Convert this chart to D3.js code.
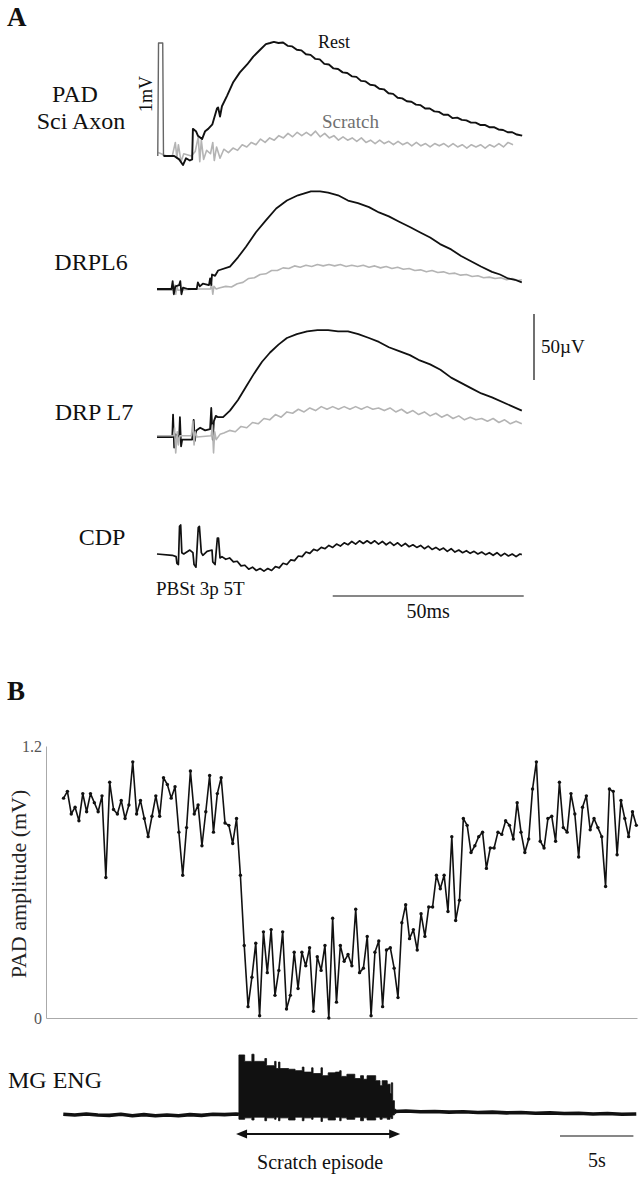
<!DOCTYPE html>
<html>
<head>
<meta charset="utf-8">
<script src="https://cdn.jsdelivr.net/npm/d3@7"></script>
<style>
  html, body { margin: 0; padding: 0; background: #fff; }
  svg { display: block; }
  text { font-family: "Liberation Serif", "Times New Roman", serif; }
</style>
</head>
<body>
<svg id="chart" width="642" height="1200"></svg>
<script>
// ---------------- Panel A data: time (ms), amplitude ----------------
// PAD (mV): calibration pulse, Rest (black) and Scratch (gray)
const padPulse = [[0.2,0],[0.4,1.0],[1.5,1.0],[1.7,0]];
const padRest = [[1.7,0],[2.6,0.00],[4.5,0.00],[5.8,-0.03],[6.8,-0.08],[7.6,-0.02],[8.6,-0.04],[9.2,-0.03],[9.4,0.24],[10.2,0.22],[10.7,0.18],[11.8,0.15],[12.6,0.22],[13.4,0.24],[14.5,0.28],[15.7,0.42],[16.0,0.43],[16.5,0.35],[17.0,0.44],[18.3,0.53],[19.9,0.65],[21.7,0.74],[23.6,0.81],[25.2,0.88],[27.0,0.94],[28.5,0.99],[29.6,1.00],[30.6,1.01],[31.8,1.00],[33.0,1.005],[34.2,0.975],[35.4,0.97],[36.6,0.94],[37.8,0.935],[39.0,0.90],[40.2,0.895],[41.4,0.86],[42.6,0.855],[43.8,0.815],[45.0,0.81],[46.2,0.775],[47.4,0.77],[48.6,0.74],[49.8,0.735],[51.0,0.705],[52.2,0.70],[53.4,0.665],[54.6,0.66],[55.8,0.63],[57.0,0.625],[58.2,0.595],[59.4,0.59],[60.6,0.555],[61.8,0.55],[63.0,0.515],[64.2,0.51],[65.4,0.485],[66.6,0.48],[67.8,0.455],[69.0,0.45],[70.2,0.42],[71.4,0.42],[72.6,0.395],[73.8,0.39],[75.0,0.365],[76.2,0.365],[77.4,0.335],[78.6,0.34],[79.8,0.32],[81.0,0.315],[82.2,0.295],[83.4,0.295],[84.6,0.275],[85.8,0.275],[87.0,0.255],[88.2,0.255],[89.4,0.235],[90.6,0.23],[91.8,0.21],[93.0,0.21],[94.2,0.19],[95.6,0.18]];
const padScratch = [[0.3,0.03],[2.5,0.00],[4.0,0.00],[4.8,0.12],[5.2,-0.02],[5.6,0.10],[6.3,-0.05],[7.0,0.02],[9.0,0.00],[10.0,0.04],[10.8,0.17],[11.2,-0.05],[11.6,0.14],[12.2,-0.03],[13.0,0.05],[14.0,0.02],[14.6,0.12],[15.0,-0.04],[15.6,0.08],[16.5,-0.02],[17.5,0.06],[18.7,0.03],[19.9,0.07],[21.1,0.05],[22.3,0.10],[23.5,0.08],[24.7,0.12],[25.9,0.10],[27.1,0.15],[28.3,0.12],[29.5,0.16],[30.7,0.14],[31.9,0.18],[33.1,0.16],[34.3,0.20],[35.5,0.17],[36.7,0.21],[37.9,0.18],[39.1,0.21],[40.3,0.18],[41.5,0.22],[42.7,0.17],[43.9,0.20],[45.1,0.16],[46.3,0.18],[47.5,0.14],[48.7,0.17],[49.9,0.14],[51.1,0.16],[52.3,0.13],[53.5,0.16],[54.7,0.12],[55.9,0.14],[57.1,0.11],[58.3,0.14],[59.5,0.11],[60.7,0.13],[61.9,0.10],[63.1,0.13],[64.3,0.10],[65.5,0.12],[66.7,0.09],[67.9,0.12],[69.1,0.09],[70.3,0.11],[71.5,0.08],[72.7,0.11],[73.9,0.09],[75.1,0.11],[76.3,0.08],[77.5,0.11],[78.7,0.08],[79.9,0.10],[81.1,0.07],[82.3,0.10],[83.5,0.08],[84.7,0.10],[85.9,0.07],[87.1,0.10],[88.3,0.08],[89.5,0.11],[90.7,0.08],[91.9,0.12],[93.2,0.10]];

// DRP L6 (µV)
const drpL6Rest = [[0,0],[3.8,0],[4.1,6],[4.4,-4],[4.8,2],[5.8,3],[6.1,6],[6.4,-4],[6.8,1],[8.1,0],[10.4,0],[10.7,5],[11.2,2],[12.0,4],[13.6,3],[13.9,8],[14.2,3],[14.4,11],[15.2,10],[16.0,14],[19.1,17],[21.2,24],[23.3,32],[25.9,43],[28.5,52],[31.2,61],[34.0,67],[36.9,71],[40.3,74],[42.7,74],[44.8,73],[47.4,71],[50.0,67],[52.6,65],[55.5,62],[58.1,58],[60.7,55],[63.4,51],[66.2,47],[68.8,43],[71.5,39],[74.1,34],[77.0,30],[79.6,25],[82.2,21],[84.8,17],[87.7,13],[89.8,11],[91.9,8],[93.7,7],[95.5,5]];
const drpL6Scratch = [[0,-1],[4.5,-1],[4.7,3],[4.9,-4],[5.2,2],[5.5,-1],[10,0],[14.0,0],[14.3,4],[14.6,-4],[14.9,2],[15.5,0],[16.5,1],[18.0,2],[19.5,1.5],[21.0,4],[22.5,5],[24.0,8],[25.5,8.5],[27.0,11],[28.5,11.5],[30.0,14],[31.5,14],[33.0,16],[34.5,15.5],[36.0,17.5],[37.5,16.5],[39.0,18],[40.5,17],[42.0,18.5],[43.5,17.5],[45.0,18.5],[46.5,17.5],[48.0,18.5],[49.5,17],[51.0,18],[52.5,17],[54.0,18],[55.5,16.5],[57.0,17.5],[58.5,16],[60.0,17],[61.5,15.5],[63.0,16.5],[64.5,15],[66.0,15.5],[67.5,14],[69.0,14.5],[70.5,13],[72.0,14],[73.5,12.5],[75.0,13],[76.5,11.5],[78.0,12],[79.5,10.5],[81.0,11],[82.5,9.5],[84.0,10],[85.5,8.5],[87.0,9],[88.5,8],[90.0,8.5],[91.5,7],[93.0,8],[94.5,6.5],[95.5,7]];

// DRP L7 (µV)
const drpL7Rest = [[0,0],[4.0,0],[4.2,17],[4.5,-8],[4.8,2],[5.8,0],[6.0,15],[6.3,-7],[6.6,-2],[9.2,-2],[9.6,13],[9.9,-3],[10.3,5],[11.3,7],[12.6,5],[13.9,6],[14.2,22],[14.6,-2],[14.9,12],[15.4,16],[16.0,15],[17.3,15],[19.1,20],[21.2,28],[23.3,38],[25.4,48],[27.5,57],[29.6,64],[31.8,70],[34.0,75],[36.6,78],[39.3,80],[42.0,81],[44.8,81],[47.4,80],[50.0,80],[52.7,78],[55.5,75],[58.1,72],[60.7,68],[63.4,65],[66.2,62],[68.8,58],[71.5,55],[74.2,51],[77.0,45],[79.6,41],[82.2,37],[84.9,33],[87.7,30],[91.6,25],[95.5,20]];
const drpL7Scratch = [[0,1],[4.3,1],[4.6,7],[4.9,-12],[5.3,4],[5.6,-6],[6.0,1],[9.0,1],[9.4,12],[9.7,-6],[10.0,4],[10.5,0],[14.2,1],[14.5,9],[14.8,-12],[15.1,4],[15.5,-2],[16.5,2],[17.5,3],[19.0,5],[20.5,4],[22.0,8],[23.5,7],[25.0,11],[26.5,10],[28.0,14],[29.5,13],[31.0,17],[32.5,15],[34.0,19],[35.5,18],[37.0,21],[38.5,19],[40.0,22],[41.5,20],[43.0,23],[44.5,21],[46.0,23],[47.5,21],[49.0,23],[50.5,21],[52.0,23],[53.5,21],[55.0,23],[56.5,21],[58.0,22],[59.5,20],[61.0,22],[62.5,19],[64.0,21],[65.5,18],[67.0,20],[68.5,17],[70.0,19],[71.5,16],[73.0,18],[74.5,15],[76.0,17],[77.5,14],[79.0,16],[80.5,13],[82.0,15],[83.5,13],[85.0,14],[86.5,12],[88.0,14],[89.5,11],[91.0,13],[92.5,10],[94.0,12],[95.5,10]];

// CDP (µV)
const cdp = [[0,0],[4.0,-1],[5.0,-2],[5.2,-7],[5.6,-8],[5.9,21],[6.2,22],[6.5,1],[7.0,0],[8.6,3],[9.4,1],[9.7,-8],[10.2,-10],[10.8,20],[11.1,21],[11.6,1],[12.0,-1],[13.1,2],[14.4,3],[14.6,-6],[15.2,-8],[15.8,12],[16.1,12],[16.5,-3],[17,-2],[18,-4],[19,-3],[20,-6],[21,-5.5],[22,-9],[23,-8.5],[24,-11.5],[25,-10],[26,-12.5],[27,-11],[28,-13],[29,-11],[30,-12.5],[31,-9.5],[32,-10.5],[33,-7],[34,-8],[35,-4.5],[36,-5],[37,-1.5],[38,-2],[39,1.5],[40,0.5],[41,3.5],[42,2.5],[43,5],[44,4],[45,6.5],[46,5],[47,7.5],[48,6],[49,8.5],[50,7],[51,9.5],[52,7.5],[53,10],[54,8],[55,10],[56,8],[57,10],[58,7.5],[59,9.5],[60,7],[61,9],[62,6.5],[63,8.5],[64,6],[65,8],[66,5.5],[67,7],[68,5],[69,6.5],[70,4],[71,6],[72,3.5],[73,5],[74,3],[75,4.5],[76,2],[77,4],[78,1.5],[79,3],[80,1],[81,2.5],[82,0.5],[83,2],[84,0],[85,1.5],[86,-0.5],[87,1],[88,-1],[89,1],[90,-1.5],[91,0.5],[92,-1.5],[93,0],[94,-2],[95,0],[95.5,-0.5]];

const rowLabels = [["PAD","Sci Axon"],["DRPL6"],["DRP L7"],["CDP"]];

// ---------------- Panel B data ----------------
const padAmpStart = 1.22;        // s, first sample
const padAmpInterval = 0.267;    // s between samples
const padAmplitude = [0.97,1.00,0.90,0.93,0.87,0.99,0.91,0.99,0.95,0.91,0.98,0.62,1.04,0.92,0.90,0.96,0.88,0.94,1.13,0.90,0.96,0.88,0.80,0.89,0.98,0.89,1.06,1.03,0.97,1.02,0.82,0.63,0.84,1.09,0.90,0.94,0.76,0.91,1.07,0.82,0.99,1.06,0.86,0.85,0.77,0.88,0.63,0.32,0.05,0.18,0.33,0.01,0.38,0.20,0.39,0.10,0.21,0.38,0.04,0.10,0.29,0.13,0.29,0.23,0.31,0.03,0.27,0.21,0.32,0.00,0.44,0.07,0.32,0.25,0.28,0.23,0.48,0.20,0.22,0.36,0.01,0.29,0.34,0.05,0.30,0.31,0.22,0.09,0.42,0.50,0.35,0.39,0.30,0.46,0.36,0.49,0.49,0.63,0.57,0.63,0.47,0.80,0.43,0.52,0.88,0.85,0.73,0.76,0.80,0.82,0.66,0.75,0.75,0.82,0.81,0.87,0.85,0.79,0.95,0.82,0.73,0.79,1.01,1.13,0.78,0.75,0.88,0.89,0.78,1.04,0.84,0.82,0.99,0.90,0.71,0.93,0.98,0.83,0.88,0.84,0.80,0.58,1.01,1.00,0.72,0.96,0.88,0.80,0.91,0.85];
const padYTicks = [0, 1.2];

// MG ENG (arbitrary units above baseline), time in s
const engBefore = [[1.2,1],[2.0,0],[2.8,1.5],[3.6,0],[4.4,-0.5],[5.2,1],[6.0,-1],[6.8,0.5],[7.6,-1],[8.4,0],[9.2,-1],[10.0,0.5],[10.8,-0.5],[11.6,1],[12.4,0.5],[13.2,1.5],[13.4,1]];
const engBurst = [[13.40,84,-6],[13.80,75,-4],[14.30,85,-7],[14.45,75,-3],[15.20,79,-8],[15.32,69,-4],[15.88,75,-6],[15.98,65,-3],[16.15,74,-8],[16.25,65,-4],[16.85,64,-7],[17.30,62,-3],[17.80,67,-8],[17.92,60,-4],[18.45,66,-6],[18.55,58,-3],[19.10,66,-9],[19.20,55,-4],[19.60,59,-7],[20.10,60,-3],[20.40,62,-8],[20.50,54,-4],[20.90,57,-6],[21.45,51,-3],[21.85,55,-8],[22.05,50,-4],[22.30,55,-7],[22.90,48,-3],[23.20,41,-6],[23.35,48,-4],[23.70,43,-6],[23.90,30,-3],[23.98,45,-5],[24.08,20,0],[24.20,8,2],[24.30,5,3]];
const engAfter = [[24.2,5],[25.0,5.5],[26.0,4.5],[27.0,5],[28.0,4],[29.0,4.5],[30.0,3.5],[31.0,4],[32.0,3],[33.0,3.5],[34.0,2.5],[35.0,3],[36.0,2],[37.0,2.5],[38.0,1.5],[39.0,2],[40.0,1],[41.0,1.5]];
const scratchEpisode = [13.2, 24.6];  // s
const timeBar = [35.7, 40.8];          // 5 s

// ---------------- Drawing ----------------
const svg = d3.select("#chart");
const serif = '"Liberation Serif", "Times New Roman", serif';
const BLACK = "#111", GRAY = "#b4b4b4";

svg.append("text").attr("x", 7).attr("y", 26).attr("font-size", 27).attr("font-weight", "bold").attr("fill", BLACK).text("A");
svg.append("text").attr("x", 7).attr("y", 700).attr("font-size", 27).attr("font-weight", "bold").attr("fill", BLACK).text("B");

// Panel A scales
const xA = d3.scaleLinear().domain([0, 96]).range([157, 157 + 96 * 3.82]);
const yPAD = d3.scaleLinear().domain([0, 1]).range([156, 43]);
const yL6 = d3.scaleLinear().domain([0, 50]).range([289, 223]);
const yL7 = d3.scaleLinear().domain([0, 50]).range([437, 371]);
const yCDP = d3.scaleLinear().domain([0, 50]).range([554, 488]);
const yBar = d3.scaleLinear().domain([0, 50]).range([380, 314]);

function trace(data, ys, color, w) {
  const line = d3.line().x(d => xA(d[0])).y(d => ys(d[1])).curve(d3.curveLinear);
  svg.append("path").datum(data).attr("d", line).attr("fill", "none")
    .attr("stroke", color).attr("stroke-width", w).attr("stroke-linejoin", "round");
}

trace(padScratch, yPAD, GRAY, 1.6);
trace(padPulse, yPAD, "#666", 1.4);
trace(padRest, yPAD, BLACK, 1.9);
trace(drpL6Scratch, yL6, GRAY, 1.6);
trace(drpL6Rest, yL6, BLACK, 1.8);
trace(drpL7Rest, yL7, BLACK, 1.8);
trace(drpL7Scratch, yL7, GRAY, 1.6);
trace(cdp, yCDP, BLACK, 1.7);

// row labels
svg.append("text").attr("x", 75).attr("y", 102).attr("text-anchor", "middle").attr("font-size", 24).attr("fill", BLACK).text(rowLabels[0][0]);
svg.append("text").attr("x", 81).attr("y", 129).attr("text-anchor", "middle").attr("font-size", 24).attr("fill", BLACK).text(rowLabels[0][1]);
svg.append("text").attr("x", 91).attr("y", 270).attr("text-anchor", "middle").attr("font-size", 24).attr("fill", BLACK).text(rowLabels[1][0]);
svg.append("text").attr("x", 94).attr("y", 420).attr("text-anchor", "middle").attr("font-size", 24).attr("fill", BLACK).text(rowLabels[2][0]);
svg.append("text").attr("x", 102).attr("y", 545).attr("text-anchor", "middle").attr("font-size", 24).attr("fill", BLACK).text(rowLabels[3][0]);

svg.append("text").attr("transform", "translate(152,94) rotate(-90)").attr("text-anchor", "middle").attr("font-size", 18).attr("fill", BLACK).text("1mV");
svg.append("text").attr("x", 318).attr("y", 48).attr("font-size", 18).attr("fill", BLACK).text("Rest");
svg.append("text").attr("x", 322).attr("y", 128).attr("font-size", 19).attr("fill", "#707070").text("Scratch");
svg.append("text").attr("x", 156).attr("y", 595).attr("font-size", 19).attr("fill", BLACK).text("PBSt 3p 5T");

// 50 µV bar
svg.append("line").attr("x1", 534).attr("x2", 534).attr("y1", yBar(0)).attr("y2", yBar(50)).attr("stroke", BLACK).attr("stroke-width", 1.2);
svg.append("text").attr("x", 541).attr("y", 353).attr("font-size", 19).attr("fill", BLACK).text("50µV");
// 50 ms bar
svg.append("line").attr("x1", xA(46)).attr("x2", xA(96)).attr("y1", 596).attr("y2", 596).attr("stroke", BLACK).attr("stroke-width", 1.2);
svg.append("text").attr("x", (xA(46) + xA(96)) / 2).attr("y", 618).attr("text-anchor", "middle").attr("font-size", 20).attr("fill", BLACK).text("50ms");

// Panel B
const xB = d3.scaleLinear().domain([0, 41.05]).range([46, 637]);
const yB = d3.scaleLinear().domain([0, 1.2]).range([1018, 746]);
const padPts = padAmplitude.map((v, i) => [padAmpStart + i * padAmpInterval, v]);

const yAxis = svg.append("g").attr("transform", "translate(46,0)")
  .call(d3.axisLeft(yB).tickValues(padYTicks).tickSize(0).tickPadding(4).tickFormat(d => d === 0 ? "0" : d3.format(".1f")(d)).tickSizeOuter(0));
yAxis.select(".domain").attr("stroke", "#aaa").attr("stroke-width", 1);
yAxis.selectAll("text").attr("font-family", serif).attr("font-size", 16).attr("fill", "#555");
const xAxis = svg.append("g").attr("transform", "translate(0,1018)")
  .call(d3.axisBottom(xB).tickValues([]).tickSizeOuter(0));
xAxis.select(".domain").attr("stroke", "#aaa").attr("stroke-width", 1);

svg.append("text").attr("transform", "translate(26,884) rotate(-90)").attr("text-anchor", "middle").attr("font-size", 22).attr("fill", "#222").text("PAD amplitude (mV)");

svg.append("path").datum(padPts)
  .attr("d", d3.line().x(d => xB(d[0])).y(d => yB(d[1])))
  .attr("fill", "none").attr("stroke", BLACK).attr("stroke-width", 1.6).attr("stroke-linejoin", "round");
svg.append("g").selectAll("circle").data(padPts).join("circle")
  .attr("cx", d => xB(d[0])).attr("cy", d => yB(d[1])).attr("r", 1.7).attr("fill", BLACK);

// MG ENG
const yE = d3.scaleLinear().domain([0, 100]).range([1115, 1043.5]);
svg.append("text").attr("x", 8).attr("y", 1088).attr("font-size", 24).attr("fill", BLACK).text("MG ENG");
const engLine = d3.line().x(d => xB(d[0])).y(d => yE(d[1]));
[engBefore, engAfter].forEach(seg => {
  svg.append("path").datum(seg).attr("d", engLine).attr("fill", "none")
    .attr("stroke", BLACK).attr("stroke-width", 3.6).attr("stroke-linejoin", "round");
});
svg.append("path").datum(engBurst)
  .attr("d", d3.area().x(d => xB(d[0])).y1(d => yE(d[1])).y0(d => yE(d[2])).curve(d3.curveStepAfter))
  .attr("fill", BLACK).attr("stroke", BLACK).attr("stroke-width", 0.8);

// scratch episode arrow
const ay = 1134;
const ax1 = xB(scratchEpisode[0]), ax2 = xB(scratchEpisode[1]);
svg.append("line").attr("x1", ax1 + 8).attr("x2", ax2 - 8).attr("y1", ay).attr("y2", ay).attr("stroke", BLACK).attr("stroke-width", 2);
svg.append("path").attr("d", `M${ax1},${ay} L${ax1 + 11},${ay - 4.5} L${ax1 + 11},${ay + 4.5} Z`).attr("fill", BLACK);
svg.append("path").attr("d", `M${ax2},${ay} L${ax2 - 11},${ay - 4.5} L${ax2 - 11},${ay + 4.5} Z`).attr("fill", BLACK);
svg.append("text").attr("x", (ax1 + ax2) / 2 + 2).attr("y", 1169).attr("text-anchor", "middle").attr("font-size", 20).attr("fill", BLACK).text("Scratch episode");

// 5 s bar
svg.append("line").attr("x1", xB(timeBar[0])).attr("x2", xB(timeBar[1])).attr("y1", 1136).attr("y2", 1136).attr("stroke", BLACK).attr("stroke-width", 1.2);
svg.append("text").attr("x", 597).attr("y", 1167).attr("text-anchor", "middle").attr("font-size", 20).attr("fill", BLACK).text("5s");
</script>
</body>
</html>
